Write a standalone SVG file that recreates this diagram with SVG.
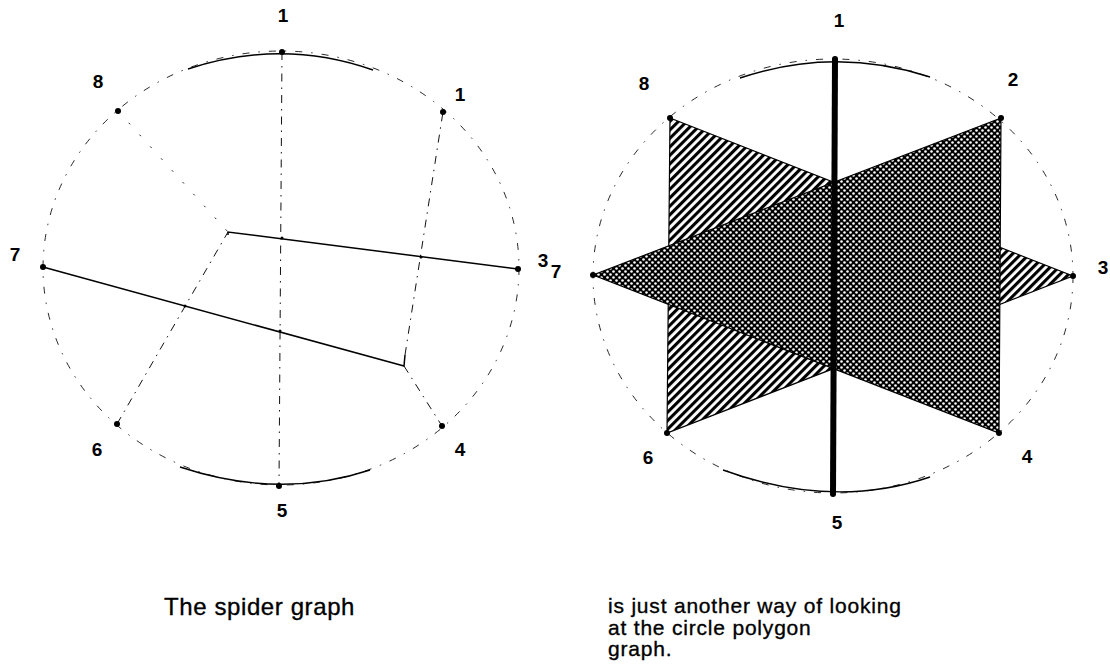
<svg xmlns="http://www.w3.org/2000/svg" width="1110" height="668" viewBox="0 0 1110 668">
<style>
text{font-family:"Liberation Sans",Arial,sans-serif;fill:#000}
.lbl{font-size:19px;font-weight:bold;text-anchor:middle}
.cap{font-size:21px;letter-spacing:0.8px;stroke:#000;stroke-width:0.35}
.cap2{font-size:24px;letter-spacing:0.6px;stroke:#000;stroke-width:0.35}
.rim{fill:none;stroke:#111;stroke-width:0.9;stroke-dasharray:7 9 1.5 9}
.arc{fill:none;stroke:#000;stroke-width:1.4}
.solid{stroke:#000;stroke-width:1.5;fill:none}
.dash{stroke:#111;stroke-width:1;fill:none;stroke-dasharray:8 6 1.5 6}
.faint{stroke:#222;stroke-width:1;fill:none;stroke-dasharray:2 14}
.dot{fill:#000}
</style>
<defs>
<pattern id="hatch" width="6" height="6" patternUnits="userSpaceOnUse" patternTransform="rotate(45)">
<rect width="6" height="6" fill="#fff"/>
<rect x="0" y="0" width="3.1" height="6" fill="#000"/>
</pattern>
<pattern id="dots" width="6" height="6" patternUnits="userSpaceOnUse">
<rect width="6" height="6" fill="#000"/>
<circle cx="1.5" cy="1.5" r="1.3" fill="#fff"/>
<circle cx="4.5" cy="4.5" r="1.3" fill="#fff"/>
</pattern>
</defs>
<rect width="1110" height="668" fill="#fff"/>

<!-- LEFT: spider graph -->
<g id="left-rim">
<ellipse class="rim" cx="281" cy="268" rx="238" ry="217"/>
<path class="arc" d="M188,69 Q282,38 373,70"/>
<path class="arc" d="M180,467 Q280,500 370,470"/>
</g>
<g id="left-connectors">
<line class="dash" x1="282" y1="52" x2="279" y2="486"/>
<polyline class="solid" points="518,269 228,232 228,235"/>
<polyline class="solid" points="43,267 404,366 405,355"/>
<line class="dash" x1="117" y1="424" x2="228" y2="232"/>
<line class="faint" x1="118" y1="111" x2="228" y2="232"/>
<line class="dash" x1="405" y1="355" x2="443" y2="112"/>
<line class="dash" x1="404" y1="366" x2="442" y2="426"/>
<circle class="dot" cx="282" cy="238" r="1.5"/>
<circle class="dot" cx="421" cy="257" r="1.5"/>
<circle class="dot" cx="185" cy="306" r="1.5"/>
<circle class="dot" cx="280" cy="331" r="1.5"/>
</g>
<g id="L1"><circle class="dot" cx="282" cy="52" r="3"/><text class="lbl" x="283" y="22">1</text></g>
<g id="L2"><circle class="dot" cx="443" cy="112" r="3"/><text class="lbl" x="460" y="101">1</text></g>
<g id="L3"><circle class="dot" cx="518" cy="269" r="3"/><text class="lbl" x="543" y="267">3</text></g>
<g id="L4"><circle class="dot" cx="442" cy="426" r="3"/><text class="lbl" x="460" y="456">4</text></g>
<g id="L5"><circle class="dot" cx="279" cy="486" r="3"/><text class="lbl" x="282" y="517">5</text></g>
<g id="L6"><circle class="dot" cx="117" cy="424" r="3"/><text class="lbl" x="97" y="456">6</text></g>
<g id="L7"><circle class="dot" cx="43" cy="267" r="3"/><text class="lbl" x="15" y="261">7</text></g>
<g id="L8"><circle class="dot" cx="118" cy="111" r="3"/><text class="lbl" x="98" y="88">8</text></g>

<!-- RIGHT: circle polygon graph -->
<g id="right-rim">
<ellipse class="rim" cx="833" cy="276" rx="240" ry="217"/>
<path class="arc" d="M740,78 Q835,46 930,77"/>
<path class="arc" d="M723,470 Q833,510 930,477"/>
</g>
<g id="right-connectors">
<polygon points="670,118 1073,276 667,433" fill="url(#hatch)" stroke="#000" stroke-width="1.2"/>
<polygon points="1001,118 593,275 999,433" fill="url(#dots)" stroke="#000" stroke-width="1.2"/>
<line x1="835" y1="59" x2="833" y2="494" stroke="#000" stroke-width="6"/>
</g>
<g id="R1"><circle class="dot" cx="835" cy="59" r="3"/><text class="lbl" x="839" y="27">1</text></g>
<g id="R2"><circle class="dot" cx="1001" cy="118" r="3"/><text class="lbl" x="1013" y="86">2</text></g>
<g id="R3"><circle class="dot" cx="1073" cy="276" r="3"/><text class="lbl" x="1103" y="274">3</text></g>
<g id="R4"><circle class="dot" cx="999" cy="433" r="3"/><text class="lbl" x="1027" y="463">4</text></g>
<g id="R5"><circle class="dot" cx="833" cy="494" r="3"/><text class="lbl" x="837" y="529">5</text></g>
<g id="R6"><circle class="dot" cx="667" cy="433" r="3"/><text class="lbl" x="648" y="464">6</text></g>
<g id="R7"><circle class="dot" cx="593" cy="275" r="3"/><text class="lbl" x="556" y="278">7</text></g>
<g id="R8"><circle class="dot" cx="670" cy="118" r="3"/><text class="lbl" x="644" y="90">8</text></g>

<g id="captions">
<text class="cap2" x="164" y="615">The spider graph</text>
<text class="cap" x="608" y="613">is just another way of looking</text>
<text class="cap" x="608" y="634.5">at the circle polygon</text>
<text class="cap" x="608" y="656">graph.</text>
</g>
</svg>
